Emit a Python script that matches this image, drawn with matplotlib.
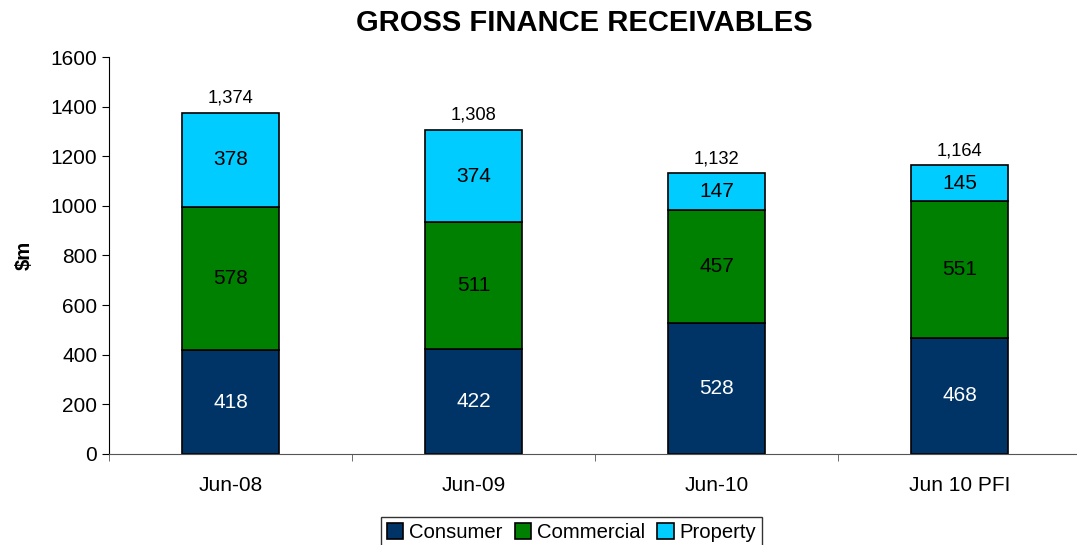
import matplotlib

matplotlib.use("Agg")
import matplotlib.pyplot as plt
import numpy as np

categories = ["Jun-08", "Jun-09", "Jun-10", "Jun 10 PFI"]
consumer = [418, 422, 528, 468]
commercial = [578, 511, 457, 551]
prop = [378, 374, 147, 145]
totals = ["1,374", "1,308", "1,132", "1,164"]

plt.rcParams["font.family"] = ["Liberation Sans", "DejaVu Sans"]

fig = plt.figure(figsize=(10.77, 5.45), dpi=100)
ax = fig.add_axes([0.1012, 0.167, 0.9025, 0.7284])

x = np.arange(len(categories))
width = 0.4
series = [
    ("Consumer", consumer, "#003366", "white"),
    ("Commercial", commercial, "#008000", "black"),
    ("Property", prop, "#00CCFF", "black"),
]
bottom = np.zeros(len(categories))
for name, vals, color, txt in series:
    vals = np.array(vals)
    ax.bar(x, vals, width, bottom=bottom, color=color, edgecolor="black",
           linewidth=1.2, label=name)
    for xi, b, v in zip(x, bottom, vals):
        ax.text(xi, b + v / 2, str(v), ha="center", va="center", fontsize=15, color=txt)
    bottom = bottom + vals

for xi, top, lab in zip(x, bottom, totals):
    ax.annotate(lab, (xi, top), xytext=(0, 10.5), textcoords="offset points",
                ha="center", va="center", fontsize=13.2)

ax.set_xlim(-0.5, 3.5)
ax.set_ylim(0, 1600)
ax.set_yticks(range(0, 1601, 200))
ax.set_xticks(x, categories)
ax.set_xticks(np.arange(-0.5, 3.6, 1), minor=True)
ax.tick_params(axis="x", which="major", length=0, pad=16, labelsize=15)
ax.tick_params(axis="x", which="minor", length=5, color="#555555")
ax.tick_params(axis="y", length=5, labelsize=15)
ax.spines["top"].set_visible(False)
ax.spines["right"].set_visible(False)
ax.spines["bottom"].set_color("#555555")
ax.set_ylabel("$m", fontsize=14.6, fontweight="bold", labelpad=12)

fig.text(0.543, 0.958, "GROSS FINANCE RECEIVABLES", ha="center", va="center",
         fontsize=21, fontweight="bold")

fig.legend(loc="upper center", bbox_to_anchor=(0.5307, 0.0514), ncol=3,
           fontsize=14.6, frameon=True, fancybox=False, edgecolor="black",
           handlelength=0.8, handleheight=0.8, handletextpad=0.3,
           columnspacing=0.6, borderpad=0.3, borderaxespad=0)

fig.savefig("out.png", dpi=100)
